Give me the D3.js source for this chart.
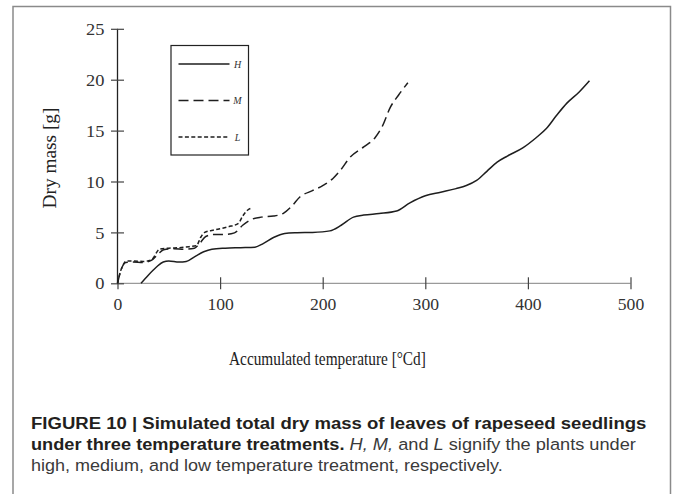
<!DOCTYPE html>
<html>
<head>
<meta charset="utf-8">
<script src="https://cdn.jsdelivr.net/npm/d3@7"></script>
<style>
  html, body { margin: 0; padding: 0; background: #fff; }
  svg { display: block; }
</style>
</head>
<body>
<svg id="chart" width="675" height="494"></svg>
<script>
// ---------- data ----------
const seriesNames = ["H", "M", "L"];
const xTicks = [0, 100, 200, 300, 400, 500];
const yTicks = [0, 5, 10, 15, 20, 25];

const seriesH = [
  [22.9,0],[30,0.8],[38,1.6],[44.6,2.1],[50,2.2],[60,2.1],[67,2.15],[75,2.6],[84,3.1],[92,3.35],
  [105,3.45],[120,3.5],[134,3.55],[142,3.9],[152,4.5],[163,4.9],[175,4.97],[190,5.0],[207,5.15],
  [218,5.7],[230,6.5],[240,6.7],[255,6.85],[272,7.1],[285,7.9],[300,8.6],[315,8.95],[330,9.3],
  [340,9.6],[350,10.1],[360,11.0],[370,11.9],[380,12.5],[395,13.3],[408,14.3],[418,15.2],
  [428,16.5],[438,17.7],[450,18.8],[460,19.9]
];
const seriesM = [
  [0,0],[2,0.8],[5,1.7],[8,2.05],[15,2.1],[25,2.05],[33,2.25],[40,2.9],[45,3.3],[55,3.4],[65,3.35],
  [75,3.45],[80,3.9],[86,4.6],[95,4.8],[105,4.8],[114,4.95],[122,5.7],[130,6.25],[140,6.5],[152,6.6],
  [162,6.9],[170,7.6],[178,8.5],[190,9.1],[200,9.6],[210,10.3],[218,11.2],[226,12.3],[240,13.4],
  [251,14.3],[258,15.4],[266,17.3],[274,18.5],[283,19.7]
];
const seriesL = [
  [0,0],[3,1.2],[6,1.9],[9,2.2],[15,2.2],[25,2.15],[33,2.3],[41,3.35],[50,3.45],[60,3.5],[70,3.6],
  [77,3.7],[81,4.5],[85,5.0],[95,5.25],[108,5.55],[118,5.9],[122,6.6],[127,7.2],[131,7.4]
];

const yTitle = "Dry mass [g]";
const xTitle = "Accumulated temperature [°Cd]";
const captionLine1 = "FIGURE 10 | Simulated total dry mass of leaves of rapeseed seedlings";
const captionLine2 = [
  {t: "under three temperature treatments.", s: "bold"},
  {t: " H, M,", s: "italic"},
  {t: " and ", s: "normal"},
  {t: "L", s: "italic"},
  {t: " signify the plants under", s: "normal"}
];
const captionLine3 = "high, medium, and low temperature treatment, respectively.";

// ---------- layout ----------
const svg = d3.select("#chart");
const serif = "'Liberation Serif', 'DejaVu Serif', serif";
const sans = "'Liberation Sans', Arial, sans-serif";

const x = d3.scaleLinear().domain([0, 500]).range([117.5, 630.5]);
const y = d3.scaleLinear().domain([0, 25]).range([283.3, 28.8]);

// frame (no bottom edge)
svg.append("path")
  .attr("d", "M13,494 L13,6.5 L670.5,6.5 L670.5,494")
  .attr("fill", "none").attr("stroke", "#8a8a8a").attr("stroke-width", 1.5);

// helper to fit text into a target width
function fitWidth(sel, x0, yb, target) {
  const w = sel.node().getComputedTextLength();
  sel.attr("x", 0).attr("y", 0)
     .attr("transform", `translate(${x0},${yb}) scale(${target / w},1)`);
}

// x axis
const gx = svg.append("g").attr("transform", `translate(0,${y(0)})`)
  .call(d3.axisBottom(x).tickValues(xTicks).tickSize(6).tickPadding(8).tickFormat(d3.format("d")));
gx.select(".domain").attr("stroke", "#9a9a9a").attr("stroke-width", 1.3)
  .attr("d", `M${x(0)},0H${x(500)}`);
gx.selectAll(".tick line").attr("y1", -6).attr("y2", 6).attr("stroke", "#444").attr("stroke-width", 1.2);
gx.selectAll(".tick text").attr("font-family", serif).attr("font-size", 16).attr("fill", "#333")
  .attr("y", 0).attr("dy", "0.35em").attr("transform", "translate(0,21) scale(1.1,1)");

// y axis
const gy = svg.append("g").attr("transform", `translate(${x(0)},0)`)
  .call(d3.axisLeft(y).tickValues(yTicks).tickSize(6).tickPadding(9));
gy.select(".domain").attr("stroke", "#222").attr("stroke-width", 1.3)
  .attr("d", `M0,${y(25)}V${y(0)}`);
gy.selectAll(".tick line").attr("x1", -6.5).attr("x2", 6.5).attr("stroke", "#444").attr("stroke-width", 1.2);
gy.selectAll(".tick text").attr("font-family", serif).attr("font-size", 16).attr("fill", "#333")
  .attr("x", 0).attr("dy", "0.35em").attr("transform", "translate(-13,0) scale(1.15,1)");

// axis titles
const yt = svg.append("text").text(yTitle)
  .attr("font-family", serif).attr("font-size", 19).attr("fill", "#222");
{
  const w = yt.node().getComputedTextLength();
  yt.attr("text-anchor", "middle")
    .attr("transform", `translate(56,158) rotate(-90) scale(${101 / w},1)`);
}

const xt = svg.append("text").text(xTitle)
  .attr("font-family", serif).attr("font-size", 18.5).attr("fill", "#222");
fitWidth(xt, 229, 365, 197);

// lines
const line = d3.line().x(d => x(d[0])).y(d => y(d[1])).curve(d3.curveMonotoneX);
const dashes = {H: null, M: "10,5", L: "4,2.4"};
const data = {H: seriesH, M: seriesM, L: seriesL};
seriesNames.forEach(n => {
  svg.append("path").datum(data[n])
    .attr("d", line)
    .attr("fill", "none").attr("stroke", "#1e1e1e").attr("stroke-width", 1.5)
    .attr("stroke-dasharray", dashes[n]);
});

// legend
const lg = svg.append("g");
lg.append("rect").attr("x", 171).attr("y", 45.5).attr("width", 77.5).attr("height", 109.5)
  .attr("fill", "#fff").attr("stroke", "#222").attr("stroke-width", 1.2);
const legY = [64, 100.5, 137];
seriesNames.forEach((n, i) => {
  lg.append("line").attr("x1", 178.5).attr("x2", 229.5).attr("y1", legY[i]).attr("y2", legY[i])
    .attr("stroke", "#1e1e1e").attr("stroke-width", 1.5).attr("stroke-dasharray", dashes[n]);
  lg.append("text").text(n).attr("x", 237.5).attr("y", legY[i]).attr("dy", "0.35em")
    .attr("text-anchor", "middle")
    .attr("font-family", serif).attr("font-style", "italic").attr("font-size", 10).attr("fill", "#333");
});

// caption
const c1 = svg.append("text").text(captionLine1)
  .attr("font-family", sans).attr("font-weight", "bold").attr("font-size", 17).attr("fill", "#231f20");
fitWidth(c1, 31, 428.5, 616);

const c2 = svg.append("text").attr("font-family", sans).attr("font-size", 17).attr("fill", "#3a3a3a");
captionLine2.forEach(p => {
  const ts = c2.append("tspan").text(p.t);
  if (p.s === "bold") ts.attr("font-weight", "bold").attr("fill", "#231f20");
  if (p.s === "italic") ts.attr("font-style", "italic");
});
fitWidth(c2, 31, 449.5, 605);

const c3 = svg.append("text").text(captionLine3)
  .attr("font-family", sans).attr("font-size", 17).attr("fill", "#3a3a3a");
fitWidth(c3, 31, 470.5, 472);
</script>
</body>
</html>
